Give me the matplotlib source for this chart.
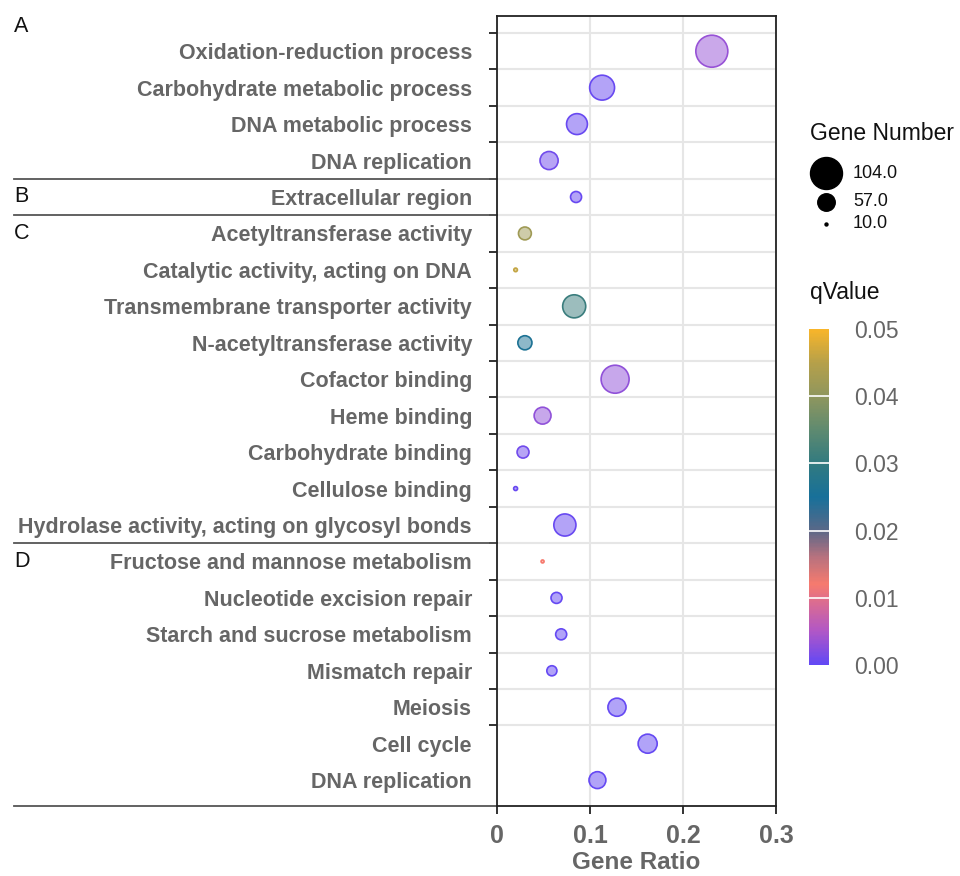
import numpy as np
import matplotlib.pyplot as plt
from matplotlib.colors import LinearSegmentedColormap, Normalize
from matplotlib.cm import ScalarMappable
from matplotlib.lines import Line2D
import matplotlib.transforms as mtransforms

plt.rcParams['font.family'] = ['Liberation Sans', 'DejaVu Sans']

# Terms, top to bottom
terms = [
    'Oxidation-reduction process', 'Carbohydrate metabolic process',
    'DNA metabolic process', 'DNA replication', 'Extracellular region',
    'Acetyltransferase activity', 'Catalytic activity, acting on DNA',
    'Transmembrane transporter activity', 'N-acetyltransferase activity',
    'Cofactor binding', 'Heme binding', 'Carbohydrate binding',
    'Cellulose binding', 'Hydrolase activity, acting on glycosyl bonds',
    'Fructose and mannose metabolism', 'Nucleotide excision repair',
    'Starch and sucrose metabolism', 'Mismatch repair', 'Meiosis',
    'Cell cycle', 'DNA replication',
]
gene_ratio = [0.231, 0.113, 0.086, 0.056, 0.085, 0.030, 0.020, 0.083, 0.030,
              0.127, 0.049, 0.028, 0.020, 0.073, 0.049, 0.064, 0.069, 0.059,
              0.129, 0.162, 0.108]
gene_number = [104, 81, 68, 59, 36, 42, 12, 75, 46, 91, 55, 39, 13, 72, 10,
               36, 36, 33, 59, 62, 55]
q_value = [0.0035, 0.0005, 0.0005, 0.001, 0.0005, 0.042, 0.046, 0.031, 0.026,
           0.003, 0.003, 0.001, 0.0005, 0.0005, 0.012, 0.0003, 0.0003, 0.0003,
           0.0003, 0.0003, 0.0003]

# section letters and the row where each section starts
sections = ['A', 'B', 'C', 'D']
section_start = [0, 4, 5, 14]

legend_sizes = [104.0, 57.0, 10.0]
cbar_ticks = [0.0, 0.01, 0.02, 0.03, 0.04, 0.05]

cmap = LinearSegmentedColormap.from_list('qv', [
    (0.00, '#6248f5'), (0.10, '#b157c6'), (0.24, '#f67a6e'), (0.32, '#b8727e'),
    (0.40, '#5a6888'), (0.50, '#17709a'), (0.60, '#317a80'), (0.70, '#5e8a70'),
    (0.80, '#8f965e'), (0.90, '#b5a04a'), (1.00, '#f8b52a')])
norm = Normalize(0, 0.05)


def marker_area(n):
    # diameter in pixels grows linearly with gene number
    d_px = 3 + (np.asarray(n) - 10) * 29 / 94
    return (d_px * 0.72) ** 2


fig = plt.figure(figsize=(9.6, 8.76), dpi=100)
ax = fig.add_axes([497 / 960, 1 - 806 / 876, 279 / 960, 790 / 876])

y = np.arange(len(terms))
cols = cmap(norm(q_value))
fill = cols.copy()
fill[:, 3] = 0.5
ax.scatter(gene_ratio, y, s=marker_area(gene_number), c=fill, edgecolors=cols,
           linewidths=1.2, zorder=3)

ax.set_xlim(0, 0.3)
ax.set_ylim(20.71, -0.966)
ax.set_xticks([0, 0.1, 0.2, 0.3])
ax.set_xticklabels(['0', '0.1', '0.2', '0.3'])
ax.set_yticks(np.arange(len(terms) - 1) - 0.5)
ax.set_yticklabels([])
ax.set_yticks(y, minor=True)
ax.set_yticklabels(terms, minor=True)
ax.tick_params(axis='y', which='major', length=6, width=1.3, color='#222')
ax.tick_params(axis='y', which='minor', length=0, pad=18, labelsize=15.5,
               labelcolor='#666666')
for lab in ax.get_yticklabels(minor=True):
    lab.set_fontweight('bold')
ax.tick_params(axis='x', length=6, width=1.3, color='#222', labelsize=18,
               labelcolor='#666666', pad=7)
for lab in ax.get_xticklabels():
    lab.set_fontweight('bold')
ax.grid(True, which='major', color='#e6e6e6', linewidth=1.5)
ax.set_axisbelow(True)
for sp in ax.spines.values():
    sp.set_linewidth(1.3)
    sp.set_color('#222')
ax.set_xlabel('Gene Ratio', fontsize=17.5, fontweight='bold', color='#666666',
              labelpad=2)

# section dividers and letters on the left
trans = mtransforms.blended_transform_factory(ax.transAxes, ax.transData)
x0 = -(497 - 14) / 279
for b in [3.5, 4.5, 13.5, 20.71]:
    ax.add_line(Line2D([x0, 0], [b, b], transform=trans, color='#555555',
                       linewidth=1.3, clip_on=False))
for letter, start in zip(sections, section_start):
    yy = -0.69 if start == 0 else start
    ax.text(x0, yy, letter, transform=trans, fontsize=15.5, va='center',
            ha='left', color='#111')

# size legend
fig.text(810 / 960, 1 - 133 / 876, 'Gene Number', fontsize=16.5, va='center',
         color='#111')
lax = fig.add_axes([0, 0, 1, 1])
lax.set_xlim(0, 960)
lax.set_ylim(876, 0)
lax.axis('off')
for val, ly in zip(legend_sizes, [173, 202, 224]):
    lax.scatter([826], [ly], s=marker_area(val), color='black')
    lax.text(853, ly, f'{val:.1f}', fontsize=13, va='center', color='#111')

# qValue colorbar
fig.text(810 / 960, 1 - 293 / 876, 'qValue', fontsize=16.5, va='center',
         color='#111')
cax = fig.add_axes([809 / 960, 1 - 665 / 876, 20 / 960, 336 / 876])
cb = fig.colorbar(ScalarMappable(norm=norm, cmap=cmap), cax=cax)
cb.outline.set_visible(False)
cb.set_ticks(cbar_ticks)
cb.set_ticklabels([f'{t:.2f}' for t in cbar_ticks])
cax.tick_params(length=0, pad=18, labelsize=16.5, labelcolor='#666666')
for t in cbar_ticks[1:-1]:
    cax.axhline(t, color='white', linewidth=1.2)

fig.savefig('out.png', dpi=100)
